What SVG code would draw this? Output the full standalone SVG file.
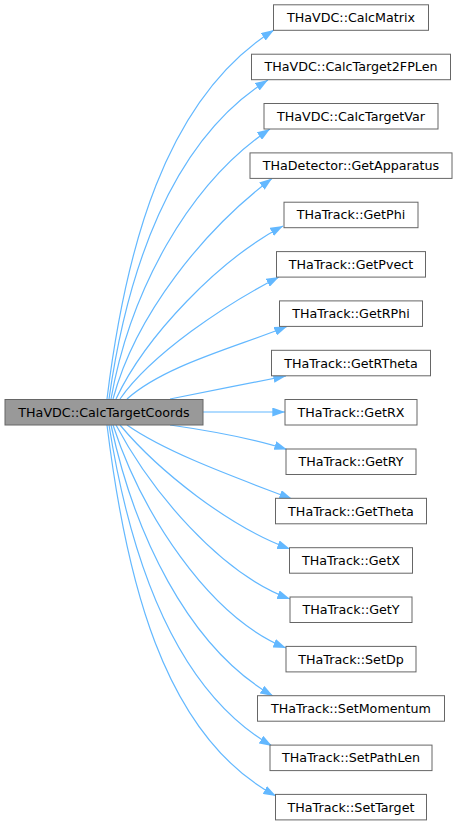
<svg xmlns="http://www.w3.org/2000/svg" width="457" height="825" viewBox="0 0 457 825">
<style>
.n rect{fill:#ffffff;stroke:#666666;stroke-width:1}
#main rect{fill:#999999;stroke:#666666}
text{font-family:"DejaVu Sans",sans-serif;font-size:12.7px;fill:#000000;text-anchor:middle}
.e path{fill:none;stroke:#63b8ff;stroke-width:1.2;marker-end:url(#ah)}
</style>
<defs>
<marker id="ah" markerUnits="userSpaceOnUse" viewBox="0 0 12.7 9" refX="12.7" refY="4.5" markerWidth="12.7" markerHeight="9" orient="auto">
<path d="M0,0 L12.7,4.5 L0,9 z" fill="#63b8ff"/>
</marker>
</defs>
<rect width="457" height="825" fill="#ffffff"/>
<g id="edges" class="e">
<path d="M107,399 C125,252 164,99 274,30"/>
<path d="M109,399 C126.8,272.2 170.5,140.9 268,80"/>
<path d="M111,399 C129.8,292.6 187.1,184.9 270,129"/>
<path d="M113,399 C135.8,314 204.1,229.7 272,178.5"/>
<path d="M116,399 C145.6,335.6 219.6,259.3 283,226"/>
<path d="M120,399 C151.5,354 225.5,304.2 279,277"/>
<path d="M127,399 C164.2,365.5 236,347.1 287,326.5"/>
<path d="M170,399 C205,392 250,383 286,376"/>
<path d="M203,412 L285,412"/>
<path d="M170,425 C205,430 250.9,437.8 287,449.5"/>
<path d="M127,425 C168,453.7 240.7,479.3 292,499"/>
<path d="M120,425 C158.6,471 228.9,526.8 290,549"/>
<path d="M116,425 C151.2,491.2 219.5,573.3 290,599"/>
<path d="M113,425 C140.8,510.6 207.2,616.2 286,648"/>
<path d="M111,425 C133.5,530.6 186.4,646 273,696"/>
<path d="M109,425 C129,551.4 172.4,688.5 272,746"/>
<path d="M107,425 C125,571.9 161.2,735 276,796"/>
</g>
<g id="main"><rect x="5" y="399.5" width="198" height="25.5"/><text x="104" y="416.7">THaVDC::CalcTargetCoords</text></g>
<g id="n0" class="n"><rect x="273.5" y="4.8" width="155" height="25.5"/><text x="351" y="22">THaVDC::CalcMatrix</text></g>
<g id="n1" class="n"><rect x="251.5" y="54.2" width="199" height="25.5"/><text x="351" y="71.4">THaVDC::CalcTarget2FPLen</text></g>
<g id="n2" class="n"><rect x="264" y="103.5" width="174" height="25.5"/><text x="351" y="120.7">THaVDC::CalcTargetVar</text></g>
<g id="n3" class="n"><rect x="250" y="152.9" width="202" height="25.5"/><text x="351" y="170.1">THaDetector::GetApparatus</text></g>
<g id="n4" class="n"><rect x="284" y="202.2" width="134" height="25.5"/><text x="351" y="219.4">THaTrack::GetPhi</text></g>
<g id="n5" class="n"><rect x="276.5" y="251.6" width="149" height="25.5"/><text x="351" y="268.8">THaTrack::GetPvect</text></g>
<g id="n6" class="n"><rect x="279.5" y="300.9" width="143" height="25.5"/><text x="351" y="318.1">THaTrack::GetRPhi</text></g>
<g id="n7" class="n"><rect x="271.5" y="350.3" width="159" height="25.5"/><text x="351" y="367.5">THaTrack::GetRTheta</text></g>
<g id="n8" class="n"><rect x="285" y="399.5" width="132" height="25.5"/><text x="351" y="416.7">THaTrack::GetRX</text></g>
<g id="n9" class="n"><rect x="286" y="449" width="130" height="25.5"/><text x="351" y="466.2">THaTrack::GetRY</text></g>
<g id="n10" class="n"><rect x="275.5" y="498.3" width="151" height="25.5"/><text x="351" y="515.5">THaTrack::GetTheta</text></g>
<g id="n11" class="n"><rect x="289.5" y="547.7" width="123" height="25.5"/><text x="351" y="564.9">THaTrack::GetX</text></g>
<g id="n12" class="n"><rect x="290" y="597" width="122" height="25.5"/><text x="351" y="614.2">THaTrack::GetY</text></g>
<g id="n13" class="n"><rect x="286" y="646.4" width="130" height="25.5"/><text x="351" y="663.6">THaTrack::SetDp</text></g>
<g id="n14" class="n"><rect x="257.5" y="695.7" width="187" height="25.5"/><text x="351" y="712.9">THaTrack::SetMomentum</text></g>
<g id="n15" class="n"><rect x="270" y="745.1" width="162" height="25.5"/><text x="351" y="762.3">THaTrack::SetPathLen</text></g>
<g id="n16" class="n"><rect x="275.5" y="794.4" width="151" height="25.5"/><text x="351" y="811.6">THaTrack::SetTarget</text></g>
</svg>
